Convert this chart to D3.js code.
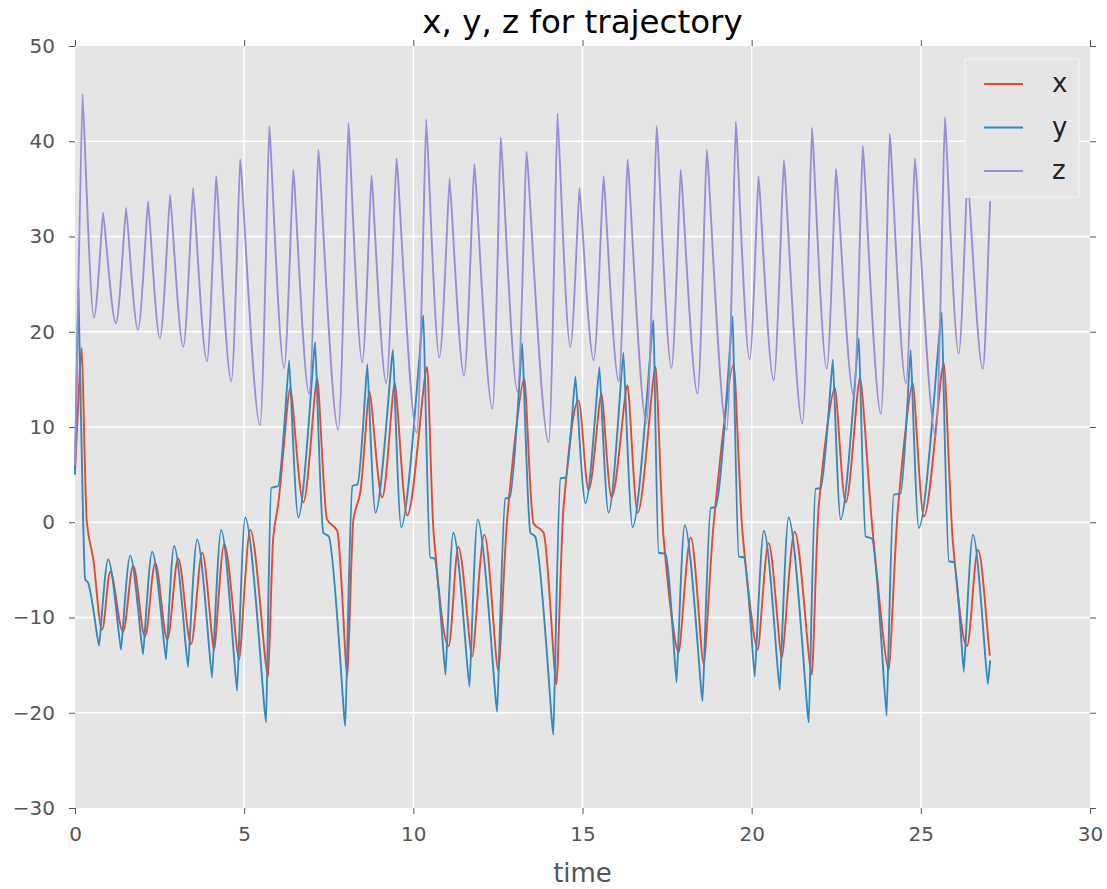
<!DOCTYPE html>
<meta charset="utf-8">
<style>
body { margin: 0; background: white; }
text { font-family: "DejaVu Sans", sans-serif; }
.grid line { stroke: white; stroke-width: 1.4px; }
.tick line { stroke: #555; }
.tick text { fill: #555; font-size: 20px; }
path.trace { fill: none; stroke-width: 1.9px; stroke-linejoin: round; }
</style>
<body>
<script src="https://d3js.org/d3.v7.min.js"></script>
<script>
// key points: [time, value]
var xSeries = [[0,5.5],[0.2,18.3],[0.35,0],[0.54,-3.9],[0.8,-11.3],[1.04,-5.2],[1.42,-11.5],[1.72,-4.6],[2.07,-12.0],
  [2.37,-4.3],[2.73,-12.3],[3.05,-3.8],[3.43,-12.8],[3.76,-3.2],[4.11,-13.4],[4.41,-2.3],[4.85,-14.4],[5.18,-0.8],
  [5.71,-16.2],[5.86,-1.6],[6.01,2.0],[6.36,14.1],[6.75,2.1],[7.16,15.1],[7.45,0.3],[7.75,-0.9],[8.05,-16.2],
  [8.23,0.3],[8.43,3.1],[8.7,13.7],[9.08,2.6],[9.45,14.6],[9.82,0.7],[10.41,16.3],[10.6,-1.1],[11.04,-13.0],
  [11.33,-2.6],[11.74,-14.1],[12.1,-1.3],[12.51,-15.6],[12.78,0.6],[13.28,15.1],[13.55,-0.1],[13.85,-1.1],
  [14.23,-17.0],[14.44,1.6],[14.88,12.8],[15.18,3.4],[15.56,13.5],[15.86,2.6],[16.33,14.4],[16.63,1.0],
  [17.16,16.3],[17.4,-1.8],[17.84,-13.7],[18.2,-1.6],[18.58,-14.9],[18.88,0.0],[19.47,16.6],[19.73,-1.1],
  [20.18,-13.4],[20.5,-2.2],[20.89,-14.2],[21.27,-1.0],[21.78,-16.0],[21.98,1.6],[22.46,14.1],[22.78,2.1],
  [23.2,15.2],[23.58,-1.1],[24.05,-15.5],[24.32,1.3],[24.76,14.6],[25.09,0.6],[25.68,16.7],[25.95,-2.2],
  [26.36,-13.0],[26.69,-2.9],[27.04,-14.0]];

var ySeries = [[0,5],[0.1,24.5],[0.24,0.3],[0.3,-6.0],[0.38,-6.3],[0.71,-13.0],[0.98,-3.9],[1.36,-13.4],[1.63,-3.5],
  [2.01,-13.9],[2.28,-3.1],[2.69,-14.4],[2.93,-2.5],[3.34,-15.2],[3.61,-1.8],[4.05,-16.3],[4.32,-0.8],[4.79,-17.7],
  [5.03,0.5],[5.65,-21.0],[5.8,3.6],[6.0,3.8],[6.33,17.0],[6.6,0.5],[7.1,18.9],[7.34,-1.1],[7.5,-1.5],[7.99,-21.4],
  [8.2,3.8],[8.35,4.0],[8.64,16.6],[8.88,1.0],[9.4,18.1],[9.64,-0.5],[10.3,21.7],[10.5,-3.7],[10.62,-3.8],
  [10.95,-16.0],[11.18,-1.1],[11.66,-17.3],[11.9,0.3],[12.48,-19.9],[12.72,2.5],[12.85,2.6],[13.22,18.8],
  [13.46,-1.1],[13.6,-1.5],[14.14,-22.3],[14.35,4.6],[14.5,4.7],[14.79,15.3],[15.09,2.0],[15.5,16.3],[15.77,1.0],
  [16.21,17.8],[16.48,-0.5],[17.1,21.2],[17.25,-3.2],[17.45,-3.3],[17.78,-16.8],[18.02,-0.3],[18.55,-18.8],
  [18.79,1.5],[18.93,1.6],[19.44,21.6],[19.62,-3.6],[19.77,-3.7],[20.09,-16.2],[20.36,-0.9],[20.83,-17.6],
  [21.09,0.5],[21.69,-21.0],[21.89,3.5],[22.04,3.6],[22.4,17.1],[22.63,0.3],[23.17,19.3],[23.37,-1.5],
  [23.55,-1.7],[23.99,-20.3],[24.2,2.9],[24.4,3.0],[24.7,18.1],[24.94,-0.6],[25.62,22.0],[25.83,-4.1],
  [25.98,-4.2],[26.27,-15.7],[26.54,-1.3],[26.98,-17.0],[27.05,-14.5]];

var zSeries = [[0,6],[0.22,45],[0.56,21.5],[0.83,32.5],[1.21,20.9],[1.51,33.0],[1.86,20.2],[2.16,33.7],[2.51,19.3],
  [2.81,34.4],[3.2,18.4],[3.49,35.1],[3.9,16.9],[4.17,36.3],[4.62,14.8],[4.88,38.1],[5.47,10.2],[5.74,41.6],
  [6.18,16.2],[6.45,37.0],[6.92,13.5],[7.19,39.1],[7.78,9.7],[8.08,41.9],[8.49,16.8],[8.76,36.4],[9.2,14.6],
  [9.5,38.2],[10.1,9.4],[10.38,42.3],[10.77,17.3],[11.07,36.1],[11.5,15.4],[11.8,37.6],[12.34,11.9],[12.58,40.4],
  [13.08,13.7],[13.34,38.9],[14.0,8.4],[14.26,42.9],[14.64,18.4],[14.91,35.1],[15.33,17.0],[15.62,36.3],
  [16.07,14.8],[16.33,38.1],[16.89,10.4],[17.19,41.6],[17.63,16.2],[17.9,37.0],[18.4,13.5],[18.67,39.1],
  [19.26,9.7],[19.53,42.0],[19.94,17.1],[20.2,36.3],[20.65,14.9],[20.95,38.0],[21.5,10.4],[21.78,41.4],
  [22.22,16.1],[22.49,37.1],[23.02,13.2],[23.28,39.5],[23.82,11.4],[24.08,40.8],[24.56,14.6],[24.82,38.2],
  [25.44,9.0],[25.71,42.5],[26.12,17.7],[26.38,36.5],[26.83,16.1],[27.05,33.7]];

var names = ["x", "y", "z"];
var colors = ["#E24A33", "#348ABD", "#988ED5"];
var xTicks = [0, 5, 10, 15, 20, 25, 30];
var yTicks = [-30, -20, -10, 0, 10, 20, 30, 40, 50];

var width = 1107,
    height = 889;
var plot = {left: 75, right: 1090, top: 46, bottom: 808};

var svg = d3.select("body").append("svg")
    .attr("width", width)
    .attr("height", height);

var x = d3.scaleLinear().domain([0, 30]).range([plot.left, plot.right]);
var y = d3.scaleLinear().domain([-30, 50]).range([plot.bottom, plot.top]);

svg.append("rect")
    .attr("x", plot.left).attr("y", plot.top)
    .attr("width", plot.right - plot.left).attr("height", plot.bottom - plot.top)
    .style("fill", "#E5E5E5");

// grid
var grid = svg.append("g").attr("class", "grid");
grid.selectAll(".gx").data(xTicks.slice(1, -1)).enter().append("line")
    .attr("x1", x).attr("x2", x).attr("y1", plot.top).attr("y2", plot.bottom);
grid.selectAll(".gy").data(yTicks.slice(1, -1)).enter().append("line")
    .attr("y1", y).attr("y2", y).attr("x1", plot.left).attr("x2", plot.right);

// axes, ticks outward on all sides
var fmt = d3.format("d");
svg.append("g").attr("transform", "translate(0," + plot.bottom + ")")
    .call(d3.axisBottom(x).tickValues(xTicks).tickFormat(fmt).tickSize(6).tickPadding(13))
    .call(function(g) { g.select(".domain").remove(); });
svg.append("g").attr("transform", "translate(0," + plot.top + ")")
    .call(d3.axisTop(x).tickValues(xTicks).tickFormat("").tickSize(6))
    .call(function(g) { g.select(".domain").remove(); });
svg.append("g").attr("transform", "translate(" + plot.left + ",0)")
    .call(d3.axisLeft(y).tickValues(yTicks).tickFormat(fmt).tickSize(6).tickPadding(14))
    .call(function(g) { g.select(".domain").remove(); });
svg.append("g").attr("transform", "translate(" + plot.right + ",0)")
    .call(d3.axisRight(y).tickValues(yTicks).tickFormat("").tickSize(6))
    .call(function(g) { g.select(".domain").remove(); });

// bezier curve through the key points: flat tangent at every extreme,
// with a short handle at the spikes (picked by isSharp) so they stay narrow
function spikeCurve(isSharp, h) {
  return function(context) {
    var pts;
    return {
      areaStart: function() {}, areaEnd: function() {},
      lineStart: function() { pts = []; },
      point: function(px, py) { pts.push([px, py]); },
      lineEnd: function() {
        var n = pts.length, s = [], m = [], hh = [], i;
        if (!n) return;
        for (i = 0; i < n - 1; i++) s.push((pts[i + 1][1] - pts[i][1]) / (pts[i + 1][0] - pts[i][0]));
        for (i = 0; i < n; i++) {
          hh[i] = 1 / 3;
          if (i == 0) { m[i] = s[0] || 0; continue; }
          if (i == n - 1) { m[i] = s[n - 2]; continue; }
          var a = s[i - 1], b = s[i];
          if (a * b <= 0) {
            m[i] = 0;
            if (a * b < 0 && isSharp(pts[i], a, b)) hh[i] = h;
          } else {
            m[i] = 2 / (1 / a + 1 / b);
          }
        }
        context.moveTo(pts[0][0], pts[0][1]);
        for (i = 0; i < n - 1; i++) {
          var dx = pts[i + 1][0] - pts[i][0],
              d0 = dx * hh[i], d1 = dx * hh[i + 1];
          context.bezierCurveTo(pts[i][0] + d0, pts[i][1] + m[i] * d0,
                                pts[i + 1][0] - d1, pts[i + 1][1] - m[i + 1] * d1,
                                pts[i + 1][0], pts[i + 1][1]);
        }
      }
    };
  };
}

// z: every maximum is a spike; x, y: the large swings are spikes
var sharpRules = [
  function(p) { return Math.abs(y.invert(p[1])) > 13; },
  function(p) { return Math.abs(y.invert(p[1])) > 8; },
  function(p, a, b) { return a < 0; }   // pixel slope < 0 going in means a maximum
];
var handles = [0.2, 0.1, 0.1];

var series = [xSeries, ySeries, zSeries];
svg.append("g").selectAll("path")
    .data(series)
    .enter().append("path")
      .attr("class", "trace")
      .attr("d", function(d, i) {
        return d3.line()
            .x(function(p) { return x(p[0]); })
            .y(function(p) { return y(p[1]); })
            .curve(spikeCurve(sharpRules[i], handles[i]))(d);
      })
      .style("stroke", function(d, i) { return colors[i]; });

// title and label
svg.append("text")
    .attr("x", (plot.left + plot.right) / 2).attr("y", 33)
    .attr("text-anchor", "middle")
    .style("font-size", "32.5px").style("fill", "#000")
    .text("x, y, z for trajectory");
svg.append("text")
    .attr("x", (plot.left + plot.right) / 2).attr("y", 882)
    .attr("text-anchor", "middle")
    .style("font-size", "26px").style("fill", "#555")
    .text("time");

// legend
var leg = svg.append("g");
leg.append("rect")
    .attr("x", 965).attr("y", 59).attr("width", 114).attr("height", 138)
    .style("fill", "#E5E5E5").style("stroke", "#f2f2f2").style("stroke-width", 1.2);
var rows = leg.selectAll(".row").data(names).enter().append("g")
    .attr("transform", function(d, i) { return "translate(0," + (84 + i * 43.5) + ")"; });
rows.append("line")
    .attr("x1", 984).attr("x2", 1023)
    .style("stroke", function(d, i) { return colors[i]; })
    .style("stroke-width", 2);
rows.append("text")
    .attr("x", 1052).attr("dy", "0.32em")
    .style("font-size", "26px").style("fill", "#222")
    .text(function(d) { return d; });
</script>
</body>
</html>
